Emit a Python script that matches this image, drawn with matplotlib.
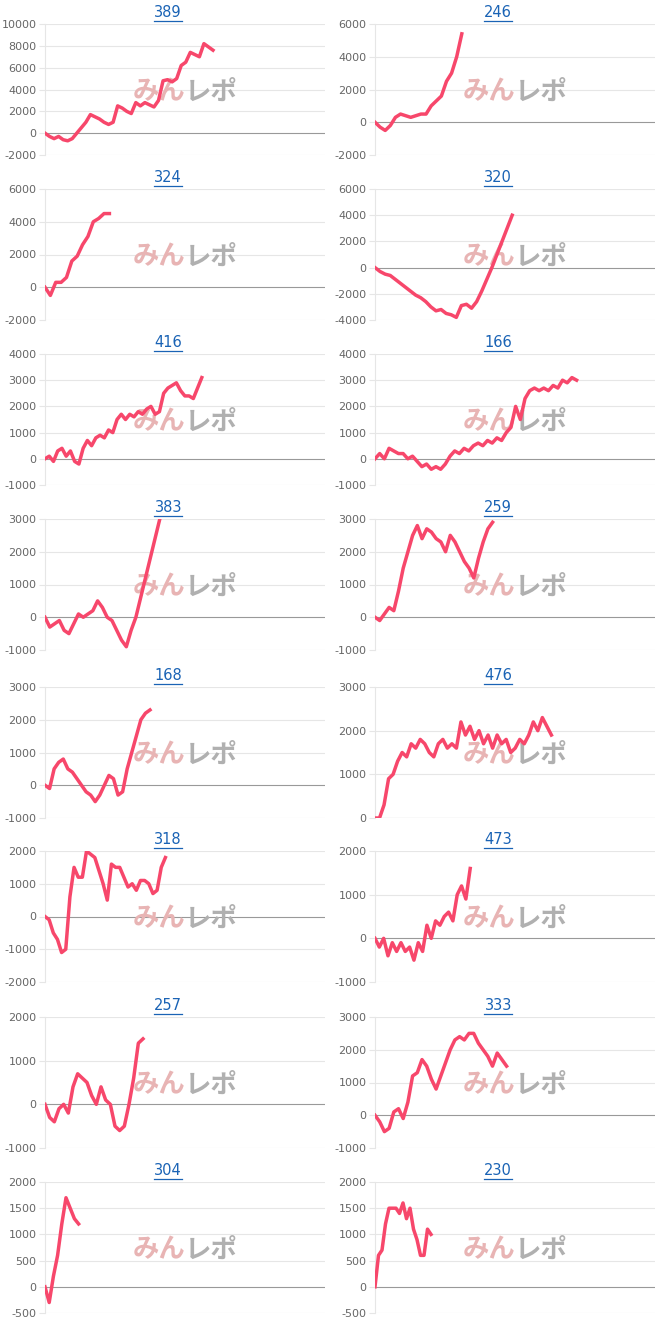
import matplotlib
matplotlib.use("Agg")
import matplotlib.pyplot as plt
from matplotlib.lines import Line2D
import numpy as np

titles = ["389","246","324","320","416","166","383","259","168","476","318","473","257","333","304","230"]
s389 = [0,-300,-500,-300,-600,-700,-500,0,500,1000,1700,1500,1300,1000,800,1000,2500,2300,2000,1800,2800,2500,2800,2600,2400,3000,4800,4900,4700,5000,6200,6500,7400,7200,7000,8200,7900,7600]
s246 = [0,-300,-500,-200,300,500,400,300,400,500,500,1000,1300,1600,2500,3000,4000,5400]
s324 = [0,-500,300,300,600,1600,1900,2600,3100,4000,4200,4500,4500]
s320 = [0,-300,-500,-600,-900,-1200,-1500,-1800,-2100,-2300,-2600,-3000,-3300,-3200,-3500,-3600,-3800,-2900,-2800,-3100,-2600,-1800,-900,0,1000,2000,3000,4000]
s416 = [0,100,-100,300,400,100,300,-100,-200,400,700,500,800,900,800,1100,1000,1500,1700,1500,1700,1600,1800,1700,1900,2000,1700,1800,2500,2700,2800,2900,2600,2400,2400,2300,2700,3100]
s166 = [0,200,0,400,300,200,200,0,100,-100,-300,-200,-400,-300,-400,-200,100,300,200,400,300,500,600,500,700,600,800,700,1000,1200,2000,1500,2300,2600,2700,2600,2700,2600,2800,2700,3000,2900,3100,3000]
s383 = [0,-300,-200,-100,-400,-500,-200,100,0,100,200,500,300,0,-100,-400,-700,-900,-400,0,600,1200,1800,2400,3000]
s259 = [0,-100,100,300,200,800,1500,2000,2500,2800,2400,2700,2600,2400,2300,2000,2500,2300,2000,1700,1500,1200,1800,2300,2700,2900]
s168 = [0,-100,500,700,800,500,400,200,0,-200,-300,-500,-300,0,300,200,-300,-200,500,1000,1500,2000,2200,2300]
s476 = [0,0,300,900,1000,1300,1500,1400,1700,1600,1800,1700,1500,1400,1700,1800,1600,1700,1600,2200,1900,2100,1800,2000,1700,1900,1600,1900,1700,1800,1500,1600,1800,1700,1900,2200,2000,2300,2100,1900]
s318 = [0,-100,-500,-700,-1100,-1000,600,1500,1200,1200,2000,1900,1800,1400,1000,500,1600,1500,1500,1200,900,1000,800,1100,1100,1000,700,800,1500,1800]
s473 = [0,-200,0,-400,-100,-300,-100,-300,-200,-500,-100,-300,300,0,400,300,500,600,400,1000,1200,900,1600]
s257 = [0,-300,-400,-100,0,-200,400,700,600,500,200,0,400,100,0,-500,-600,-500,0,600,1400,1500]
s333 = [0,-200,-500,-400,100,200,-100,400,1200,1300,1700,1500,1100,800,1200,1600,2000,2300,2400,2300,2500,2500,2200,2000,1800,1500,1900,1700,1500]
s304 = [0,-300,200,600,1200,1700,1500,1300,1200]
s230 = [0,600,700,1200,1500,1500,1500,1400,1600,1300,1500,1100,900,600,600,1100,1000]
series = [s389,s246,s324,s320,s416,s166,s383,s259,s168,s476,s318,s473,s257,s333,s304,s230]
fracs = [0.6,0.31,0.23,0.49,0.56,0.72,0.41,0.42,0.375,0.63,0.43,0.34,0.35,0.47,0.12,0.2]
yr = [(-2000,10000,2000),(-2000,6000,2000),(-2000,6000,2000),(-4000,6000,2000),
      (-1000,4000,1000),(-1000,4000,1000),(-1000,3000,1000),(-1000,3000,1000),
      (-1000,3000,1000),(0,3000,1000),(-2000,2000,1000),(-1000,2000,1000),
      (-1000,2000,1000),(-1000,3000,1000),(-500,2000,500),(-500,2000,500)]
tops = [24,189,354,519,687,851,1017,1182]

W,H = 658,1320
fig = plt.figure(figsize=(W/100,H/100),dpi=100)
for i in range(16):
    r,c = divmod(i,2)
    left = 45 if c==0 else 375
    ax = fig.add_axes([left/W, 1-(tops[r]+131)/H, 280/W, 131/H])
    lo,hi,st = yr[i]
    ticks = np.arange(lo,hi+1,st)
    ax.set_ylim(lo,hi)
    ax.set_yticks(ticks)
    ax.set_yticklabels([str(int(t)) for t in ticks],fontsize=8,color="#666666")
    y = series[i]
    n = len(y)
    ax.set_xlim(0,(n-1)/fracs[i])
    ax.set_xticks([])
    for t in ticks:
        ax.axhline(t,color="#999999" if t==0 else "#e6e6e6",lw=0.8,zorder=0)
    for s in ["top","right","bottom"]:
        ax.spines[s].set_visible(False)
    ax.spines["left"].set_color("#e6e6e6")
    ax.tick_params(axis="y",length=4,color="#e6e6e6",pad=2)
    ax.plot(np.arange(n),y,color="#f7476b",lw=2.5,zorder=3)
    ax.text(0.5,0.48,"みん",transform=ax.transAxes,ha="right",va="center",fontsize=19,
            fontweight="bold",color="#e8b4b4",family=["Noto Sans CJK JP","DejaVu Sans"],zorder=1)
    ax.text(0.5,0.48,"レポ",transform=ax.transAxes,ha="left",va="center",fontsize=19,
            fontweight="bold",color="#b0b0b0",family=["Noto Sans CJK JP","DejaVu Sans"],zorder=1)
    tx = 0.44
    ax.text(tx,1.0+4/131,titles[i],transform=ax.transAxes,ha="center",va="bottom",
            fontsize=10.5,color="#1a63b5")
    ax.add_line(Line2D([tx-0.049,tx+0.049],[1.0+3/131]*2,transform=ax.transAxes,
                       color="#1a63b5",lw=0.9,clip_on=False))
fig.savefig("out.png",dpi=100)
